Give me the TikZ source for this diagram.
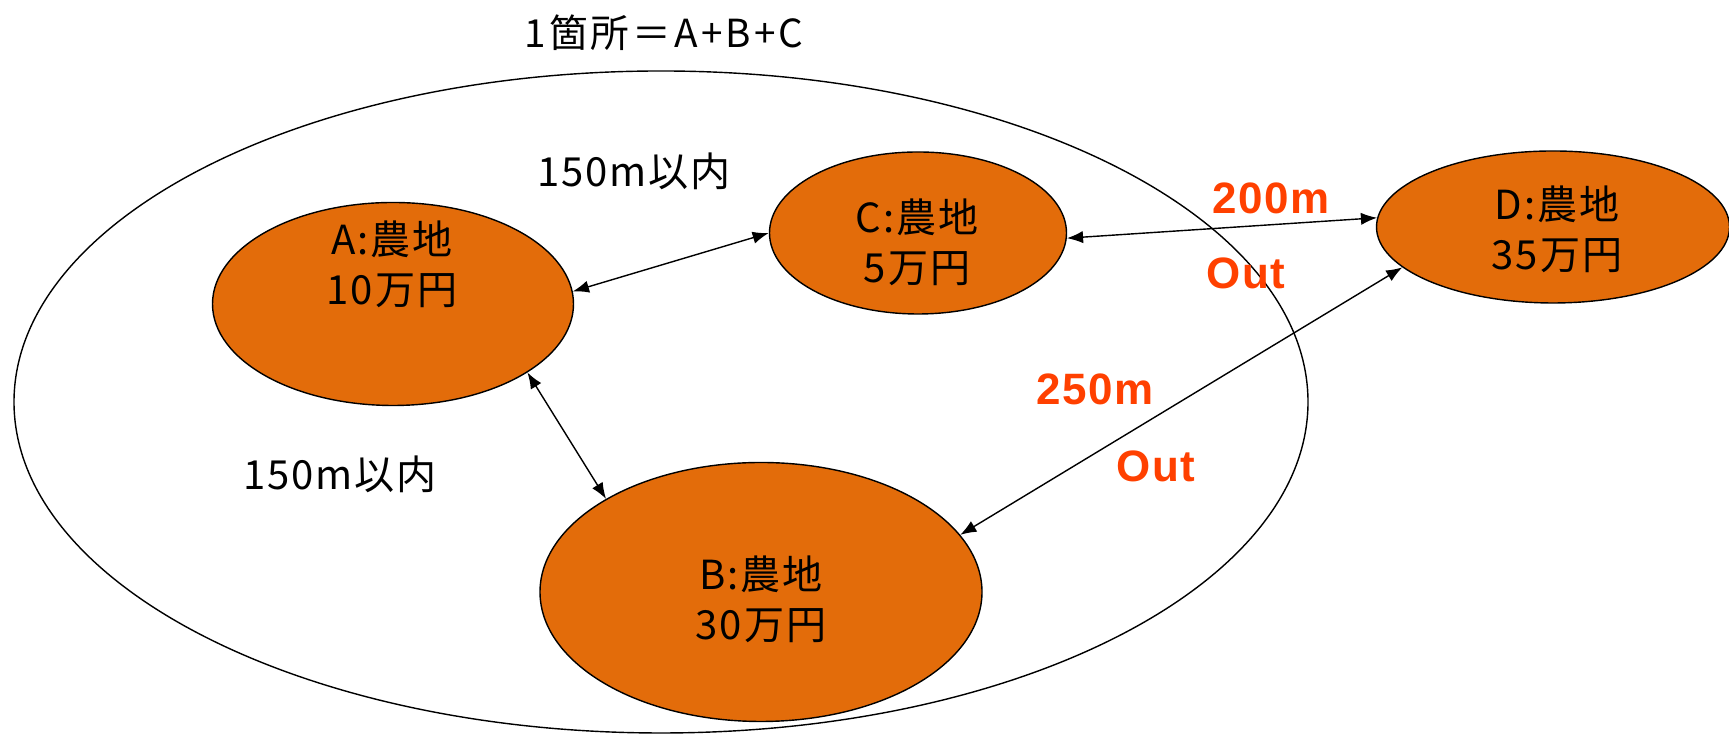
\documentclass[tikz,border=0pt]{standalone}
\usepackage{fontspec}
\setmainfont{Noto Sans CJK JP}
\newfontfamily\latinfont{Liberation Sans}
\usepackage{tikz}
\usetikzlibrary{arrows.meta,shapes.geometric}
\definecolor{farmorange}{RGB}{227,108,10}
\definecolor{outred}{RGB}{255,64,0}
\tikzset{farm/.style={ellipse,draw,fill=farmorange,inner sep=0pt},
         lbl/.style={align=center,font=\fontsize{11.4}{14.2}\selectfont\addfontfeature{LetterSpace=5}},
         dist/.style={text=outred,font=\latinfont\bfseries\fontsize{12.5}{15}\selectfont\addfontfeature{LetterSpace=3}}}

\begin{document}
\begin{tikzpicture}[>={Latex[length=4.6pt,width=3.5pt]}]
                      \useasboundingbox(0,0)rectangle(17.29,7.34);
                      \node[ellipse,draw,minimum width=12.94cm,minimum height=6.62cm](site)at(6.61,3.32){};
                      \node[lbl,font=\fontsize{11}{13}\selectfont\addfontfeature{LetterSpace=8}](title)at(6.64,7.01){1箇所＝A+B+C};
                      \foreach \n/\x/\y/\w/\h in {a/3.93/4.30/3.61/2.03, b/7.61/1.42/4.42/2.59, c/9.18/5.01/2.97/1.62, d/15.53/5.07/3.53/1.52}
                        \node[farm,minimum width=\w cm,minimum height=\h cm](\n)at(\x,\y){};
                      \node[lbl](atext)at(3.92,4.70){A:農地\\10万円};
                      \node[lbl](btext)at(7.61,1.35){B:農地\\30万円};
                      \node[lbl](ctext)at(9.17,4.92){C:農地\\5万円};
                      \node[lbl](dtext)at(15.57,5.05){D:農地\\35万円};
                      \node[lbl](near1)at(6.34,5.63){150m以内};
                      \node[lbl](near2)at(3.40,2.60){150m以内};
                      \node[dist](far1)at(12.71,5.36){200m};
                      \node[dist](out1)at(12.46,4.61){Out};
                      \node[dist](far2)at(10.95,3.45){250m};
                      \node[dist](out2)at(11.56,2.68){Out};
                      \draw[<->](a.4)--(c.180);
                      \draw[<->](a.-27)--(b.149);
                      \draw[<->](c.-2)--(d.177);
                      \draw[<->](b.16)--(d.195);
                  \end{tikzpicture}
\end{document}
